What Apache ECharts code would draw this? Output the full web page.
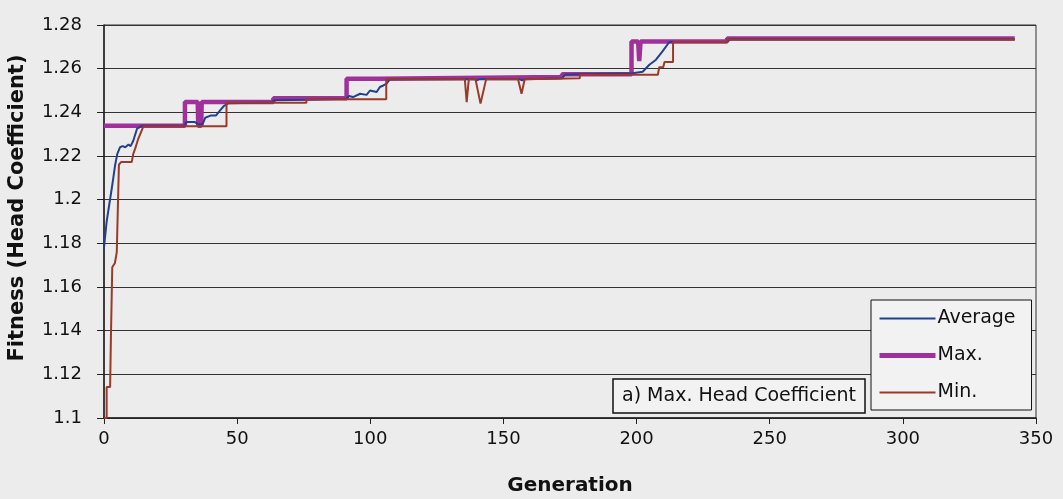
<!DOCTYPE html>
<html>
<head>
<meta charset="utf-8">
<script src="https://cdn.jsdelivr.net/npm/echarts@6/dist/echarts.min.js"></script>
<style>
  html, body { margin: 0; padding: 0; background: #ececec; }
  #chart { width: 1063px; height: 499px; }
</style>
</head>
<body>
<div id="chart"></div>
<script>
// generation / fitness
const maxGen = [0, 30.4, 30.4, 35.2, 35.4, 36.5, 36.7, 63.6, 63.6, 91.1, 91.1, 103, 103, 172, 172, 198.1, 198.1, 200.6, 201, 201.5, 234, 234, 342];
const maxVal = [1.2338, 1.2338, 1.2447, 1.2447, 1.2338, 1.2338, 1.2447, 1.2447, 1.2465, 1.2465, 1.2554, 1.2554, 1.2562, 1.2562, 1.2574, 1.2574, 1.2724, 1.2724, 1.2635, 1.2724, 1.2724, 1.2738, 1.2738];

const avgGen = [0, 1, 2, 2.9, 3.5, 4.2, 5, 6, 7, 8, 9.2, 10, 11, 12.4, 14.3, 30, 31, 34, 35.5, 37, 38, 40, 42, 44, 45, 46.8, 63, 64, 76, 91, 92, 93.5, 96.2, 98.6, 99.9, 102.4, 103.6, 104.9, 106.1, 107.4, 139, 140, 141, 156, 157, 158, 172, 173, 179, 198.5, 202.3, 204.8, 207.3, 209.8, 212.3, 234, 235, 342];
const avgVal = [1.178, 1.19, 1.198, 1.205, 1.21, 1.216, 1.221, 1.224, 1.2245, 1.224, 1.2253, 1.2245, 1.227, 1.2325, 1.2338, 1.2338, 1.2356, 1.2356, 1.2345, 1.2345, 1.2375, 1.2385, 1.2385, 1.2415, 1.2429, 1.2442, 1.2445, 1.2455, 1.2458, 1.2462, 1.2475, 1.247, 1.2485, 1.248, 1.25, 1.2493, 1.2516, 1.2523, 1.2531, 1.2552, 1.2552, 1.2546, 1.2552, 1.2552, 1.2546, 1.2552, 1.2556, 1.2572, 1.2575, 1.2579, 1.2586, 1.2618, 1.2641, 1.268, 1.2722, 1.2722, 1.2735, 1.2735];

const minGen = [0, 1, 1, 2.3, 2.6, 3.1, 4.1, 4.8, 5.6, 6.4, 10.4, 11, 11.6, 12.9, 14.8, 46, 46, 76, 76, 106, 106, 135.5, 136.2, 137, 139.5, 141.4, 143.5, 155.5, 156.8, 158, 178.7, 178.7, 208, 208.5, 210, 210.5, 213.7, 213.7, 234, 234, 342];
const minVal = [1.1, 1.1, 1.1142, 1.1142, 1.137, 1.169, 1.171, 1.176, 1.216, 1.2172, 1.2172, 1.221, 1.223, 1.228, 1.2336, 1.2336, 1.2444, 1.2444, 1.246, 1.246, 1.2552, 1.2552, 1.2447, 1.2552, 1.2552, 1.244, 1.2552, 1.2552, 1.2485, 1.2552, 1.2556, 1.2572, 1.2572, 1.2607, 1.2607, 1.263, 1.263, 1.2722, 1.2722, 1.2734, 1.2734];

const yTicks = { min: 1.1, max: 1.28, step: 0.02 };
const xTicks = { min: 0, max: 350, step: 50 };

const zip = (a, b) => a.map((g, i) => [g, b[i]]);

const chart = echarts.init(document.getElementById('chart'));
const font = 'DejaVu Sans';

const option = {
  backgroundColor: '#ececec',
  animation: false,
  title: {
    text: 'a) Max. Head Coefficient',
    left: 613,
    top: 379,
    padding: [6, 9],
    borderColor: '#111',
    borderWidth: 1.5,
    backgroundColor: '#f2f2f2',
    textStyle: { fontFamily: font, fontSize: 19, fontWeight: 'normal', color: '#111', lineHeight: 22 }
  },
  legend: {
    orient: 'vertical',
    left: 871,
    top: 300,
    padding: [9, 16, 8, 6],
    itemWidth: 56,
    itemHeight: 20,
    itemGap: 18,
    borderColor: '#111',
    borderWidth: 1,
    backgroundColor: '#f2f2f2',
    itemStyle: { opacity: 0 },
    data: [
      { name: 'Average', lineStyle: { width: 2 } },
      { name: 'Max.', lineStyle: { width: 5 } },
      { name: 'Min.', lineStyle: { width: 2 } }
    ],
    textStyle: { fontFamily: font, fontSize: 19, color: '#111', padding: [0, 0, 0, -3] }
  },
  graphic: [{
    type: 'text',
    x: 18,
    y: 208,
    rotation: Math.PI / 2,
    style: {
      text: 'Fitness (Head Coefficient)',
      fontFamily: font, fontSize: 21, fontWeight: 'bold', fill: '#111',
      align: 'center', verticalAlign: 'middle'
    }
  }],
  grid: {
    left: 104, right: 27, top: 25, bottom: 81,
    outerBoundsMode: 'none',
    show: true, borderColor: '#333', borderWidth: 1, backgroundColor: 'transparent'
  },
  xAxis: {
    type: 'value',
    min: xTicks.min, max: xTicks.max, interval: xTicks.step,
    name: 'Generation',
    nameLocation: 'middle',
    nameGap: 58,
    nameTextStyle: { fontFamily: font, fontSize: 20, fontWeight: 'bold', color: '#111' },
    axisLine: { lineStyle: { color: '#222', width: 1.5 } },
    axisTick: { length: 6, lineStyle: { color: '#222' } },
    axisLabel: { fontFamily: font, fontSize: 18, color: '#111', margin: 12 },
    splitLine: { show: false }
  },
  yAxis: {
    type: 'value',
    min: yTicks.min, max: yTicks.max, interval: yTicks.step,
    axisLine: { show: true, lineStyle: { color: '#222', width: 1.5 } },
    axisTick: { show: true, length: 7, lineStyle: { color: '#222' } },
    axisLabel: {
      fontFamily: font, fontSize: 18, color: '#111', margin: 22,
      formatter: v => String(parseFloat(v.toFixed(2)))
    },
    splitLine: { lineStyle: { color: '#333', width: 1 } }
  },
  series: [
    {
      name: 'Max.', type: 'line', symbol: 'none',
      data: zip(maxGen, maxVal),
      lineStyle: { color: '#a0309a', width: 4.5 },
      itemStyle: { color: '#a0309a' }
    },
    {
      name: 'Average', type: 'line', symbol: 'none',
      data: zip(avgGen, avgVal),
      lineStyle: { color: '#23408e', width: 2 },
      itemStyle: { color: '#23408e' }
    },
    {
      name: 'Min.', type: 'line', symbol: 'none',
      data: zip(minGen, minVal),
      lineStyle: { color: '#9a3a28', width: 2 },
      itemStyle: { color: '#9a3a28' }
    }
  ]
};

chart.setOption(option);
</script>
</body>
</html>
